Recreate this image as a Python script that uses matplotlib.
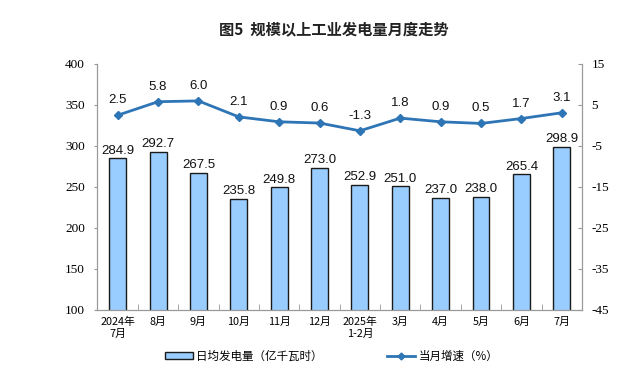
import matplotlib
matplotlib.use("Agg")
import matplotlib.pyplot as plt
import numpy as np
from matplotlib.lines import Line2D
from matplotlib.patches import Patch

plt.rcParams['font.family'] = ['Noto Sans CJK SC', 'DejaVu Sans']

categories = ["2024年\n7月", "8月", "9月", "10月", "11月", "12月", "2025年\n1-2月",
              "3月", "4月", "5月", "6月", "7月"]
daily_output = [284.9, 292.7, 267.5, 235.8, 249.8, 273.0, 252.9, 251.0, 237.0, 238.0, 265.4, 298.9]
growth = [2.5, 5.8, 6.0, 2.1, 0.9, 0.6, -1.3, 1.8, 0.9, 0.5, 1.7, 3.1]
left_ticks = list(range(100, 401, 50))
right_ticks = list(range(-45, 16, 10))

fig = plt.figure(figsize=(6.4, 3.89), dpi=100)
ax = fig.add_axes([0.1523, 0.2031, 0.7570, 0.6324])
x = np.arange(len(categories))

ax.bar(x, daily_output, width=0.42, color='#99CCFF', edgecolor='#1a1a1a', linewidth=1.0, zorder=2)
for xi, v in zip(x, daily_output):
    ax.text(xi, v + 2, f"{v:.1f}", ha='center', va='bottom', fontsize=9.5,
            family='Liberation Sans', color='#111111')
ax.set_ylim(100, 400)
ax.set_xlim(-0.5, len(categories) - 0.5)
ax.set_yticks(left_ticks)
ax.set_yticklabels([str(t) for t in left_ticks], fontfamily=['Liberation Serif'], fontsize=9.5)
ax.tick_params(axis='y', direction='out', length=2.5, color='#999999', pad=6.5)
ax.set_xticks(x)
ax.set_xticklabels(categories, fontsize=7.8, linespacing=1.25)
ax.tick_params(axis='x', length=0, pad=5)
ax.set_xticks(np.arange(-0.5, len(categories), 1), minor=True)
ax.tick_params(axis='x', which='minor', direction='in', length=4, color='#999999')
ax.spines['top'].set_visible(False)
for s in ['left', 'bottom', 'right']:
    ax.spines[s].set_color('#999999')

ax2 = ax.twinx()
ax2.plot(x, growth, color='#2E75B6', linewidth=2.0, marker='D', markersize=4,
         markerfacecolor='#2E75B6', markeredgecolor='#2E75B6', zorder=3)
for xi, v in zip(x, growth):
    ax2.text(xi, v + 2.2, f"{v:.1f}", ha='center', va='bottom', fontsize=9.5,
             family='Liberation Sans', color='#111111')
ax2.set_ylim(-45, 15)
ax2.set_yticks(right_ticks)
ax2.set_yticklabels([str(t) for t in right_ticks], fontfamily=['Liberation Serif'], fontsize=9.5)
ax2.tick_params(axis='y', direction='in', length=3, color='#999999', pad=7)
ax2.spines['top'].set_visible(False)
for s in ['left', 'bottom', 'right']:
    ax2.spines[s].set_color('#999999')

fig.text(0.522, 0.922, "图5  规模以上工业发电量月度走势", ha='center', va='center', fontsize=11,
         fontweight='bold', color='#222222')

handles = [Patch(facecolor='#99CCFF', edgecolor='#1a1a1a', linewidth=1.0),
           Line2D([0], [0], color='#2E75B6', linewidth=2.0, marker='D', markersize=3.5)]
fig.legend(handles, ["日均发电量（亿千瓦时）", "当月增速（%）"], loc='center',
           bbox_to_anchor=(0.518, 0.085), ncol=2, frameon=False, fontsize=8.3,
           columnspacing=5.6, handlelength=2.4, handleheight=0.6, handletextpad=0.3)

fig.savefig("out.png", dpi=100)
